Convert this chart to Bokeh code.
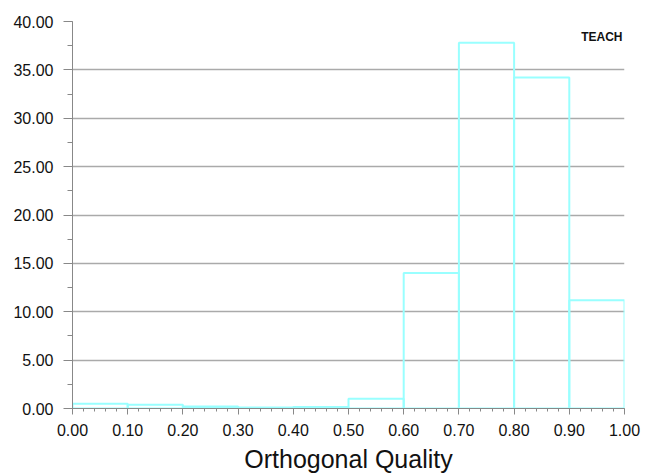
from bokeh.plotting import figure
from bokeh.models import Range1d, SingleIntervalTicker, NumeralTickFormatter, Label
from bokeh.embed import file_html
from bokeh.resources import INLINE

bin_left = [0.0, 0.1, 0.2, 0.3, 0.4, 0.5, 0.6, 0.7, 0.8, 0.9]
bin_right = [0.1, 0.2, 0.3, 0.4, 0.5, 0.6, 0.7, 0.8, 0.9, 1.0]
percent = [0.5, 0.4, 0.2, 0.1, 0.15, 1.0, 14.0, 37.8, 34.2, 11.2]
bottoms = [0.0] * len(percent)

p = figure(width=649, height=475, output_backend="svg", toolbar_location=None,
           x_range=Range1d(0, 1), y_range=Range1d(0, 40),
           min_border_left=72, min_border_right=25, min_border_top=21, min_border_bottom=67)
p.outline_line_color = None
p.background_fill_color = "white"

p.quad(left=bin_left, right=bin_right, bottom=bottoms, top=percent,
       fill_alpha=0, line_color="#99ffff", line_width=2)

font = "Liberation Sans"
p.xaxis.ticker = SingleIntervalTicker(interval=0.1, num_minor_ticks=5)
p.yaxis.ticker = SingleIntervalTicker(interval=5, num_minor_ticks=2)
p.xaxis.formatter = NumeralTickFormatter(format="0.00")
p.yaxis.formatter = NumeralTickFormatter(format="0.00")
for ax in (p.xaxis, p.yaxis):
    ax.axis_line_color = "#888888"
    ax.major_tick_line_color = "#888888"
    ax.minor_tick_line_color = "#888888"
    ax.major_tick_out = 6
    ax.major_tick_in = 0
    ax.minor_tick_out = 3
    ax.minor_tick_in = 0
    ax.major_label_text_font = font
    ax.major_label_text_font_size = "16px"
    ax.major_label_text_color = "#111111"
p.yaxis.major_tick_out = 9
p.yaxis.minor_tick_out = 5
p.yaxis.major_label_standoff = 10
p.xaxis.major_label_standoff = 9
p.xaxis.axis_label = "Orthogonal Quality"
p.xaxis.axis_label_text_font = font
p.xaxis.axis_label_text_font_size = "25px"
p.xaxis.axis_label_text_font_style = "normal"
p.xaxis.axis_label_text_color = "#111111"
p.xaxis.axis_label_standoff = 6

p.xgrid.grid_line_color = None
p.ygrid.grid_line_color = "#aaaaaa"
p.ygrid.grid_line_width = 1.5

# screen units here are measured from the frame's bottom-left corner
logo = Label(x=622 - 72, y=408 - 29, x_units="screen", y_units="screen", text="TEACH",
             text_font=font, text_font_style="bold", text_font_size="12px",
             text_color="#111111", text_baseline="top", text_align="right")
p.add_layout(logo)

open("out.html", "w").write(file_html(p, INLINE))
